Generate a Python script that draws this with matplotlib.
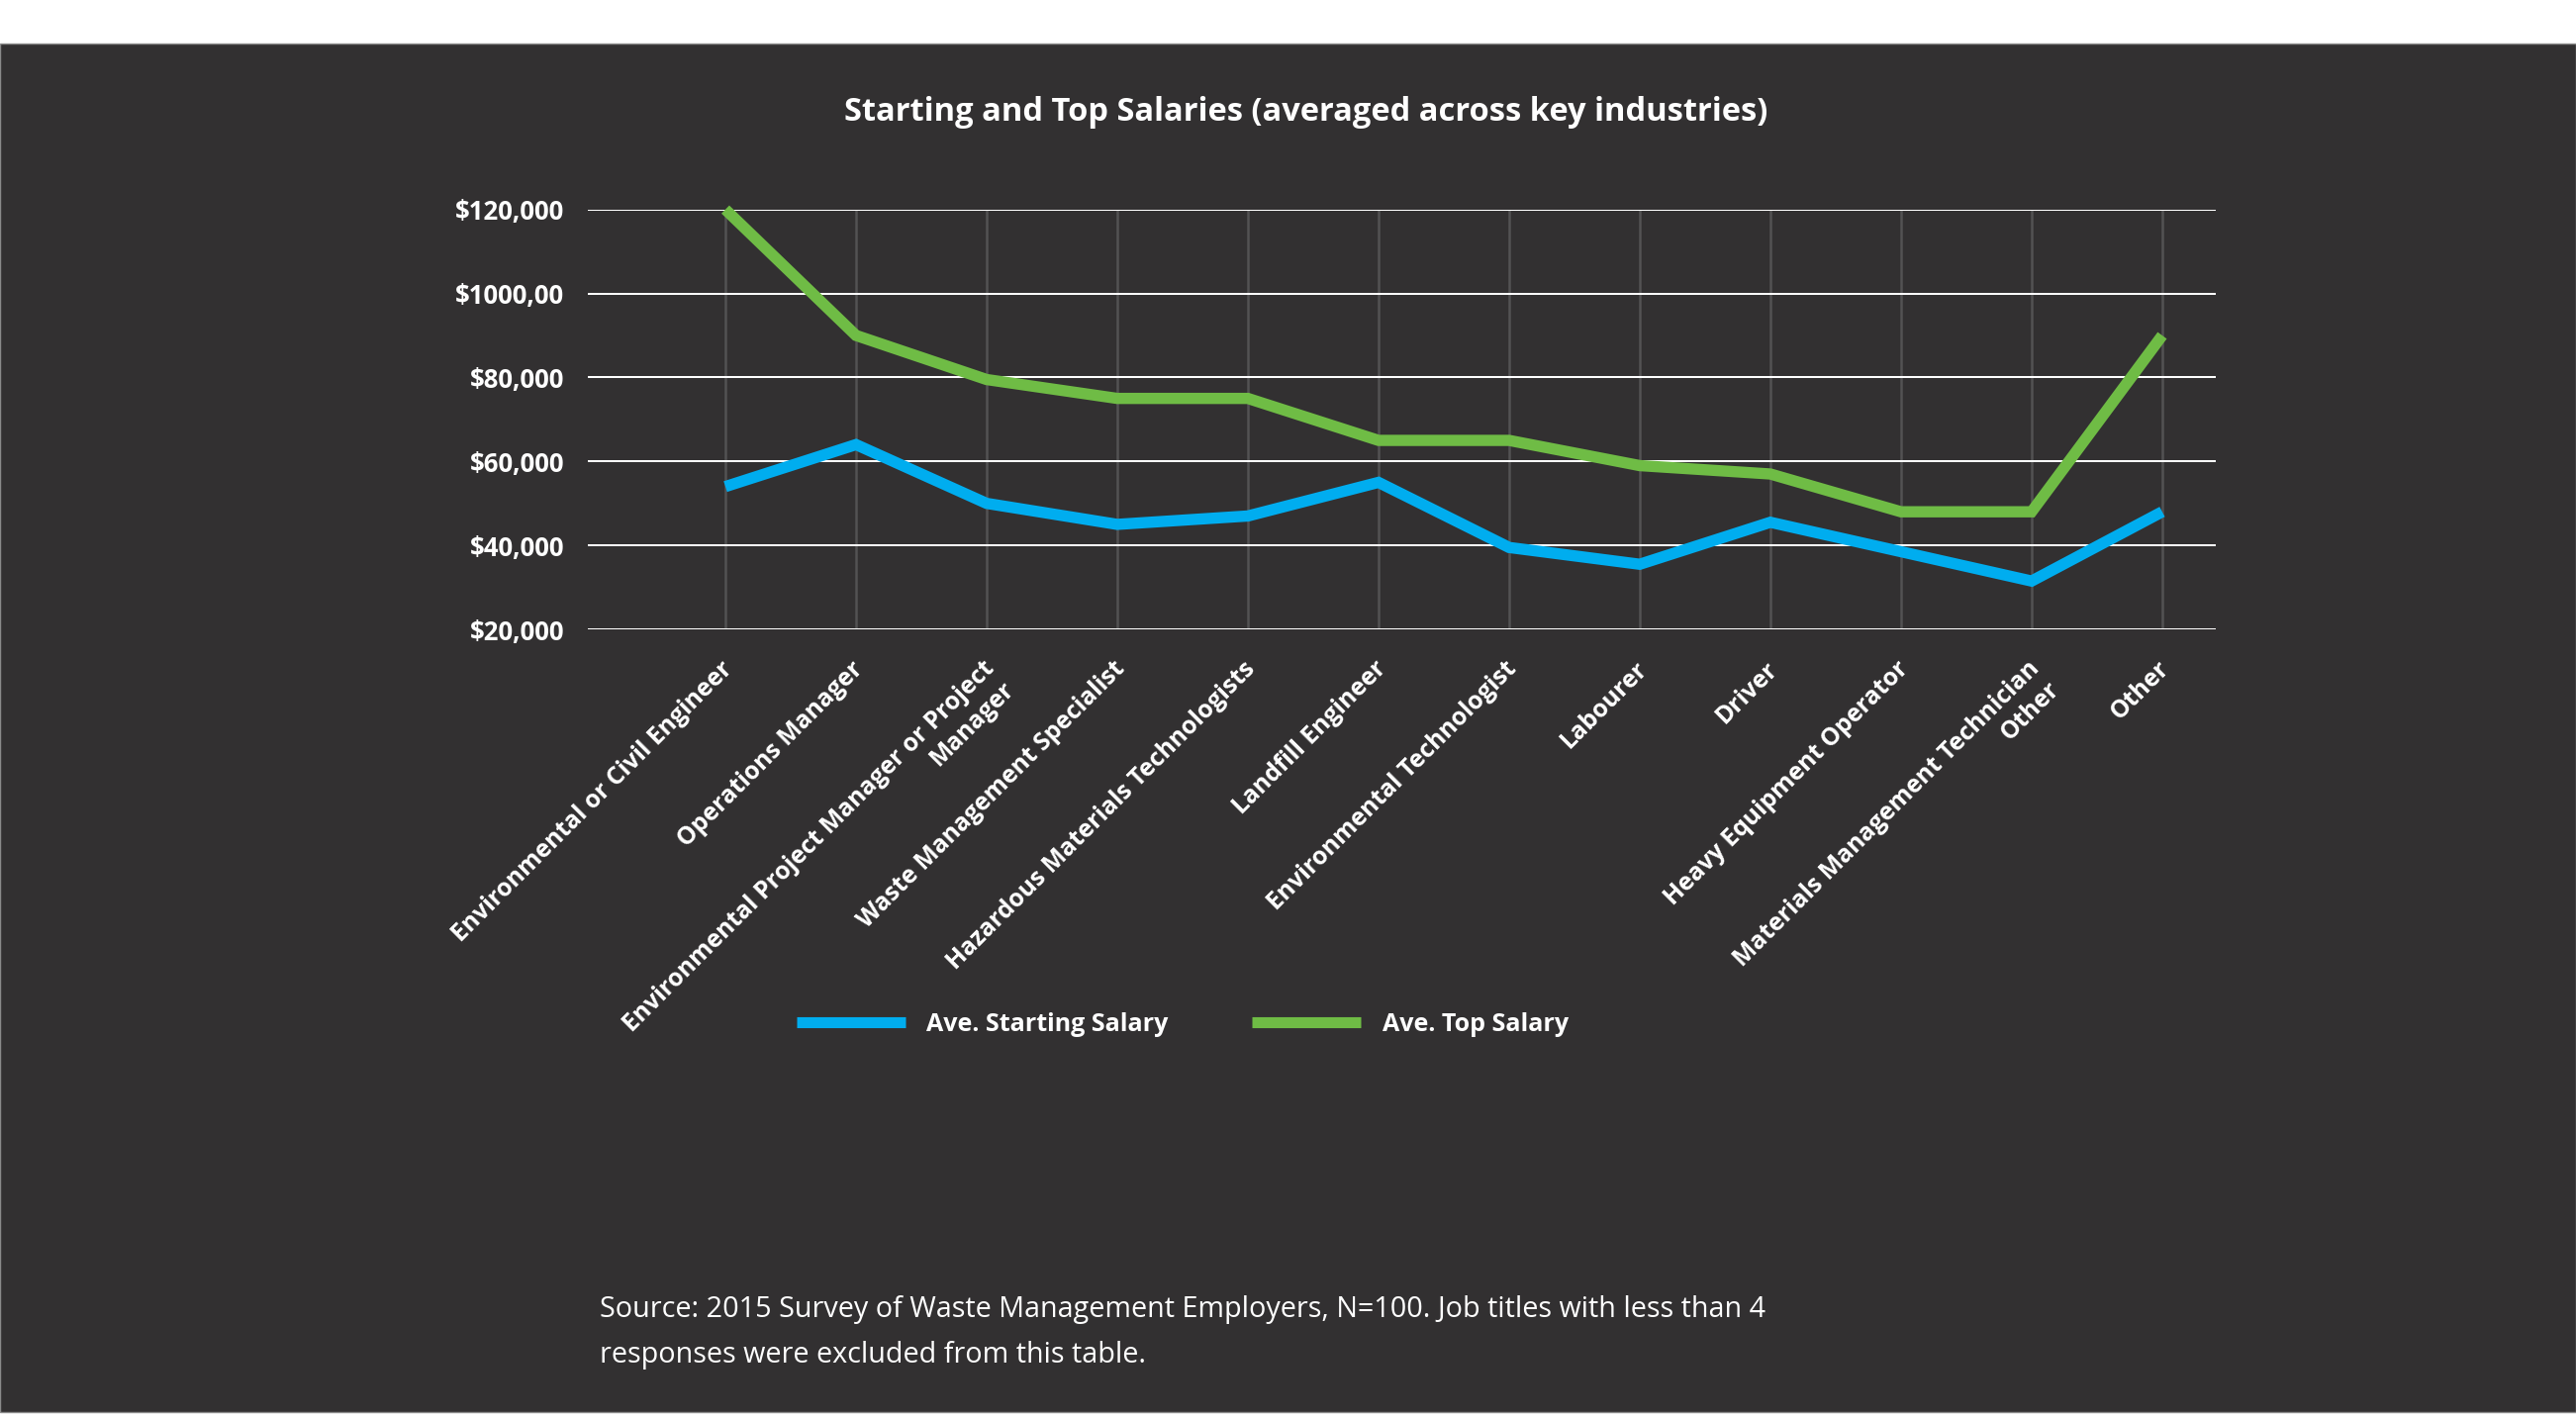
import matplotlib.pyplot as plt
from matplotlib.patches import Rectangle
from matplotlib.lines import Line2D
from matplotlib.transforms import ScaledTranslation

jobs = ['Environmental or Civil Engineer', 'Operations Manager',
        'Environmental Project Manager or Project\nManager',
        'Waste Management Specialist', 'Hazardous Materials Technologists',
        'Landfill Engineer', 'Environmental Technologist', 'Labourer', 'Driver',
        'Heavy Equipment Operator', 'Materials Management Technician\nOther', 'Other']
starting = [54000, 64000, 50000, 45000, 47000, 55000, 39500, 35500, 45500, 38500, 31500, 48000]
top = [120000, 90000, 79500, 75000, 75000, 65000, 65000, 59000, 57000, 48000, 48000, 90000]
yticks = [20000, 40000, 60000, 80000, 100000, 120000]
ylabels = ['$20,000', '$40,000', '$60,000', '$80,000', '$1000,00', '$120,000']

bg = '#323031'
blue = '#00adef'
green = '#6fbc45'

plt.rcParams['font.family'] = ['Open Sans', 'DejaVu Sans']

fig = plt.figure(figsize=(26.03, 14.33), dpi=100, facecolor='white')
fig.patches.append(Rectangle((0, 6/1433), 1, 1383/1433, transform=fig.transFigure,
                             facecolor=bg, edgecolor='#8a8a8a', lw=1, zorder=-5))

ax = fig.add_axes([594/2603, 1-636/1433, (2239-594)/2603, (636-211.7)/1433])
ax.set_facecolor(bg)
ax.patch.set_alpha(0)

x = list(range(len(jobs)))
ax.plot(x, starting, color=blue, lw=8.2, solid_capstyle='butt', solid_joinstyle='miter',
        clip_on=False, zorder=3, label='Ave. Starting Salary')
ax.plot(x, top, color=green, lw=8.2, solid_capstyle='butt', solid_joinstyle='miter',
        clip_on=False, zorder=3, label='Ave. Top Salary')

ax.set_xlim(-1.053, 11.41)
ax.set_ylim(20000, 120000)
ax.set_xticks(x)
ax.set_xticklabels(jobs)
ax.set_yticks(yticks)
ax.set_yticklabels(ylabels)
for s in ax.spines.values():
    s.set_visible(False)
ax.tick_params(length=0)
ax.tick_params(axis='y', pad=17, labelsize=18.5, labelcolor='white')
ax.tick_params(axis='x', pad=22, labelsize=17.8, labelcolor='white')
for t in ax.get_yticklabels():
    t.set_fontweight('bold')
shift = ScaledTranslation(-5/100, 3/100, fig.dpi_scale_trans)
for t in ax.get_xticklabels():
    t.set_fontweight('bold')
    t.set_rotation(45)
    t.set_ha('right')
    t.set_va('top')
    t.set_rotation_mode('anchor')
    t.set_transform(t.get_transform() + shift)

ax.xaxis.grid(True, color='#535253', lw=1.8)
ax.yaxis.grid(True, color='white', lw=1.45)

fig.text(0.507, 1-113/1433, 'Starting and Top Salaries (averaged across key industries)',
         color='white', fontsize=23.5, fontweight='bold', ha='center', va='center')

handles = [Line2D([], [], color=blue, lw=8, solid_capstyle='butt'),
           Line2D([], [], color=green, lw=8, solid_capstyle='butt')]
leg = fig.legend(handles, ['Ave. Starting Salary', 'Ave. Top Salary'], loc='center',
                 bbox_to_anchor=(0.459, 1-1035/1433), ncol=2, frameon=False,
                 handlelength=4.4, handletextpad=0.85, columnspacing=3.4,
                 prop={'weight': 'bold', 'size': 18})
for t in leg.get_texts():
    t.set_color('white')

fig.text(606/2603, 1-1323/1433,
         'Source: 2015 Survey of Waste Management Employers, N=100. Job titles with less than 4',
         color='white', fontsize=20.7, ha='left', va='center')
fig.text(606/2603, 1-1370/1433, 'responses were excluded from this table.',
         color='white', fontsize=20.7, ha='left', va='center')

fig.savefig('out.png', dpi=100, facecolor='white')
